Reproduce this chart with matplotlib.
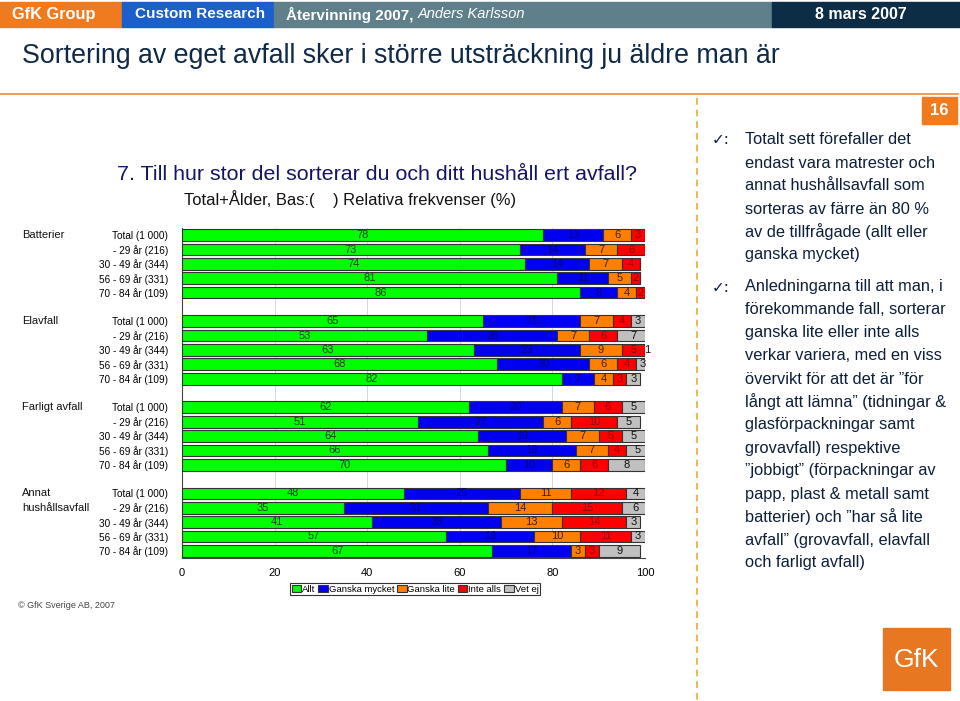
import matplotlib
matplotlib.use("Agg")
import matplotlib.pyplot as plt
import matplotlib.transforms as mtransforms
from matplotlib import font_manager
from matplotlib.patches import Rectangle
import numpy as np


def pick(names):
    # first installed family from the list
    for n in names:
        try:
            font_manager.findfont(font_manager.FontProperties(family=n), fallback_to_default=False)
            return n
        except ValueError:
            pass
    return "DejaVu Sans"


NARROW = pick(["Liberation Sans Narrow", "Liberation Sans"])
ARIAL = pick(["Liberation Sans", "DejaVu Sans"])
plt.rcParams["font.family"] = [NARROW, "DejaVu Sans"]

# %%
# data
categories = ["Batterier", "Elavfall", "Farligt avfall", "Annat\nhushållsavfall"]
groups = ["Total (1 000)", "- 29 år (216)", "30 - 49 år (344)", "56 - 69 år (331)", "70 - 84 år (109)"]
series = ["Allt", "Ganska mycket", "Ganska lite", "Inte alls", "Vet ej"]

allt = [78, 73, 74, 81, 86, 65, 53, 63, 68, 82, 62, 51, 64, 66, 70, 48, 35, 41, 57, 67]
ganska_mycket = [13, 14, 14, 11, 8, 21, 28, 23, 20, 7, 20, 27, 19, 19, 10, 25, 31, 28, 19, 17]
ganska_lite = [6, 7, 7, 5, 4, 7, 7, 9, 6, 4, 7, 6, 7, 7, 6, 11, 14, 13, 10, 3]
inte_alls = [3, 6, 4, 2, 2, 4, 6, 5, 4, 3, 6, 10, 5, 4, 6, 12, 15, 14, 11, 3]
vet_ej = [0, 0, 0, 0, 0, 3, 7, 1, 3, 3, 5, 5, 5, 5, 8, 4, 6, 3, 3, 9]

colors = ["#00ff00", "#0000f0", "#ff8000", "#ff0000", "#c0c0c0"]
text_colors = ["#1a3a1a", "#00007a", "#3a2000", "#8a0000", "#111111"]

# %%
fig = plt.figure(figsize=(9.6, 7.01), dpi=100)

# page decoration in pixel coordinates
bg = fig.add_axes([0, 0, 1, 1], zorder=0)
bg.set_xlim(0, 960)
bg.set_ylim(701, 0)
bg.axis("off")

bg.add_patch(Rectangle((0, 2), 122, 25, color="#f07a1e"))
bg.add_patch(Rectangle((122, 2), 152, 25, color="#1a5fcc"))
bg.add_patch(Rectangle((274, 2), 498, 25, color="#5f7f8a"))
bg.add_patch(Rectangle((772, 2), 188, 25, color="#0d2c45"))
hdr = dict(color="white", fontsize=11, fontweight="bold", va="center")
bg.text(12, 14.5, "GfK Group", fontsize=11.8, color="white", fontweight="bold", va="center")
bg.text(135, 14.5, "Custom Research", **hdr)
bg.text(286, 14.5, "Återvinning 2007,", **hdr)
bg.text(418, 14.5, "Anders Karlsson", color="white", fontsize=10.5, style="italic", va="center")
bg.text(815, 14.5, "8 mars 2007", fontsize=11.5, color="white", fontweight="bold", va="center")

bg.text(22, 56, "Sortering av eget avfall sker i större utsträckning ju äldre man är",
        fontsize=19.3, color="#0f2a47", va="center")
bg.plot([0, 958], [94, 94], color="#f08a3c", lw=1.2)
bg.plot([697, 697], [98, 701], color="#f0a838", lw=1.2, ls=(0, (4, 3)))
bg.add_patch(Rectangle((922, 97), 35, 27, color="#f07a1e"))
bg.text(939.5, 110.5, "16", color="white", fontsize=12, fontweight="bold", ha="center", va="center")

bg.text(377, 174, "7. Till hur stor del sorterar du och ditt hushåll ert avfall?",
        family=ARIAL, fontsize=15.4, color="#141464", ha="center", va="center")
bg.text(350, 199, "Total+Ålder, Bas:(    ) Relativa frekvenser (%)",
        fontsize=11.9, color="#111111", ha="center", va="center")

# right hand comments
bullet1 = ["Totalt sett förefaller det", "endast vara matrester och", "annat hushållsavfall som",
           "sorteras av färre än 80 %", "av de tillfrågade (allt eller", "ganska mycket)"]
bullet2 = ["Anledningarna till att man, i", "förekommande fall, sorterar", "ganska lite eller inte alls",
           "verkar variera, med en viss", "övervikt för att det är \u201dför",
           "långt att lämna\u201d (tidningar &", "glasförpackningar samt", "grovavfall) respektive",
           "\u201djobbigt\u201d (förpackningar av", "papp, plast & metall samt",
           "batterier) och \u201dhar så lite", "avfall\u201d (grovavfall, elavfall", "och farligt avfall)"]
rc = dict(fontsize=11.8, color="#0c1f3a", va="center")
for start, lines in [(140, bullet1), (287, bullet2)]:
    bg.text(712, start, "\u2713:", family=["DejaVu Sans"], fontsize=11, color="#0c1f3a", va="center")
    for i, line in enumerate(lines):
        bg.text(745, start + 23 * i, line, **rc)

bg.text(18, 606, "© GfK Sverige AB, 2007", fontsize=6.5, color="#444444", va="center")
bg.add_patch(Rectangle((883, 628), 67, 62, color="#e87722"))
bg.text(916.5, 660, "GfK", color="white", fontsize=19, ha="center", va="center", family=ARIAL)

# %%
# the chart itself
left, right, top, bottom = 182, 645, 228, 558
ax = fig.add_axes([left / 960, 1 - bottom / 701, (right - left) / 960, (bottom - top) / 701], zorder=2)
ax.patch.set_alpha(0)

ypos = np.array([g * 6 + i for g in range(len(categories)) for i in range(len(groups))])
data = [allt, ganska_mycket, ganska_lite, inte_alls, vet_ej]

lefts = np.zeros(len(ypos))
handles = []
for name, vals, col, tcol in zip(series, data, colors, text_colors):
    vals = np.array(vals, dtype=float)
    h = ax.barh(ypos, vals, left=lefts, height=0.82, color=col, edgecolor="#333333",
                linewidth=0.8, label=name, zorder=3)
    handles.append(h)
    for y, l, v in zip(ypos, lefts, vals):
        if v > 0:
            ax.text(l + v / 2, y, f"{int(v)}", ha="center", va="center",
                    fontsize=8, color=tcol, zorder=4)
    lefts += vals

ax.set_xlim(0, 100)
ax.set_ylim(ypos.max() + 0.5, -0.5)
ax.set_xticks([0, 20, 40, 60, 80, 100])
ax.tick_params(axis="x", length=0, pad=7, labelsize=8)
ax.set_yticks(ypos, groups * len(categories))
ax.tick_params(axis="y", length=0, pad=10, labelsize=7.2)
ax.xaxis.grid(True, color="#d0d0d0", lw=0.6)
ax.set_axisbelow(True)
for s in ["top", "right"]:
    ax.spines[s].set_visible(False)
ax.spines["left"].set_color("#444444")
ax.spines["bottom"].set_color("#444444")

trans = mtransforms.blended_transform_factory(fig.transFigure, ax.transData)
for g, cat in enumerate(categories):
    for k, part in enumerate(cat.split("\n")):
        ax.text(22 / 960, g * 6 + k, part, transform=trans, fontsize=8, va="center", color="#111111")

leg = ax.legend(handles=handles, loc="center", bbox_to_anchor=((415 - left) / (right - left), -(589 - bottom) / (bottom - top)),
                ncol=5, fontsize=6.8, frameon=True, fancybox=False, edgecolor="black",
                handlelength=1.0, handleheight=0.8, handletextpad=0.1, columnspacing=0.3,
                borderpad=0.2, borderaxespad=0)
leg.get_frame().set_linewidth(0.8)

fig.savefig("out.png", dpi=100)
